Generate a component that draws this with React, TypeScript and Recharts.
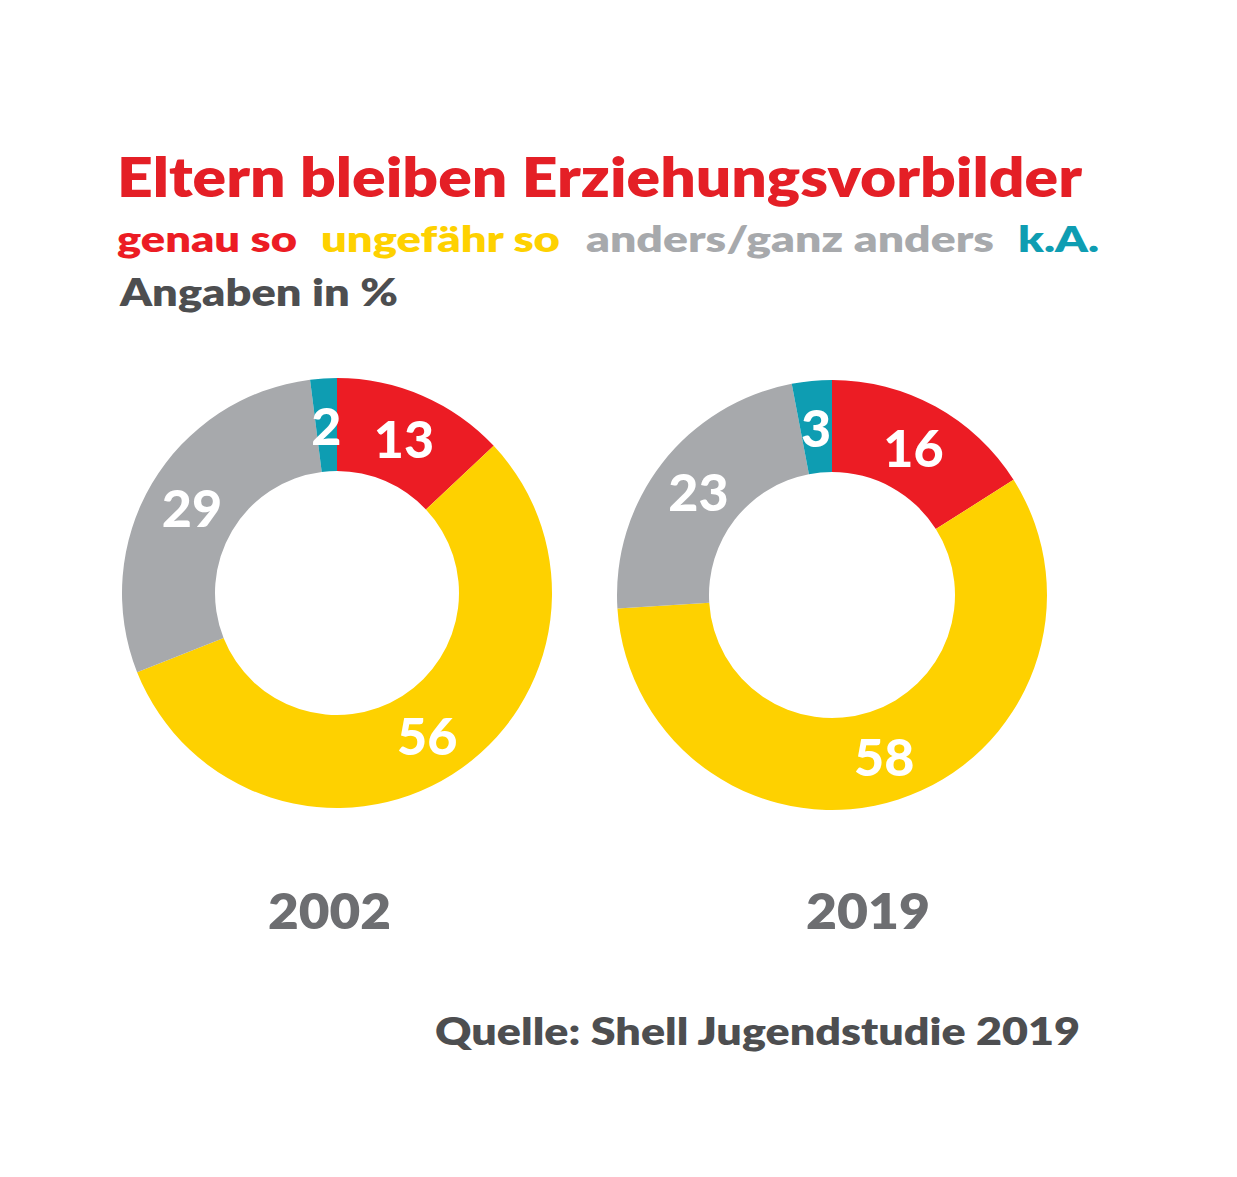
import React from "react";
import { PieChart, Pie, Cell } from "recharts";

const categories = ["genau so", "ungefähr so", "anders/ganz anders", "k.A."];
const values2002 = [13, 56, 29, 2];
const values2019 = [16, 58, 23, 3];
const years = ["2002", "2019"];
const colors = ["#EC1C24", "#FED100", "#A7A9AC", "#0E9DB2"];

const data2002 = categories.map((name, i) => ({ name, value: values2002[i] }));
const data2019 = categories.map((name, i) => ({ name, value: values2019[i] }));

const FONT = "Lato, 'Open Sans', sans-serif";
const RAD = Math.PI / 180;

const renderLabel = (props: any) => {
  const { cx, cy, midAngle, innerRadius, outerRadius, value } = props;
  const r = (innerRadius + outerRadius) / 2;
  const x = cx + r * Math.cos(-midAngle * RAD);
  const y = cy + r * Math.sin(-midAngle * RAD);
  return (
    <text
      x={x}
      y={y}
      fill="#ffffff"
      textAnchor="middle"
      dominantBaseline="central"
      fontFamily={FONT}
      fontWeight={900}
      fontSize={52}
    >
      {value}
    </text>
  );
};

export default function App() {
  return (
    <div style={{ position: "absolute", left: 0, top: 0, width: 1237, height: 1177, background: "#fff" }}>
      <PieChart width={1237} height={1177} margin={{ top: 0, right: 0, bottom: 0, left: 0 }}>
        <Pie
          data={data2002}
          dataKey="value"
          cx={337}
          cy={593}
          innerRadius={122}
          outerRadius={215}
          startAngle={90}
          endAngle={-270}
          stroke="none"
          label={renderLabel}
          labelLine={false}
          isAnimationActive={false}
        >
          {data2002.map((d, i) => (
            <Cell key={d.name} fill={colors[i]} />
          ))}
        </Pie>
        <Pie
          data={data2019}
          dataKey="value"
          cx={832}
          cy={595}
          innerRadius={123}
          outerRadius={215}
          startAngle={90}
          endAngle={-270}
          stroke="none"
          label={renderLabel}
          labelLine={false}
          isAnimationActive={false}
        >
          {data2019.map((d, i) => (
            <Cell key={d.name} fill={colors[i]} />
          ))}
        </Pie>
      </PieChart>
      <svg
        width={1237}
        height={1177}
        style={{ position: "absolute", left: 0, top: 0, pointerEvents: "none" }}
        fontFamily={FONT}
        fontWeight={800}
      >
        <text x={117} y={197} fontSize={54} fill="#E41F26" textLength={965} lengthAdjust="spacingAndGlyphs">
          Eltern bleiben Erziehungsvorbilder
        </text>
        <text x={117} y={252} fontSize={36} fill={colors[0]} textLength={180} lengthAdjust="spacingAndGlyphs">
          {categories[0]}
        </text>
        <text x={321} y={252} fontSize={36} fill={colors[1]} textLength={239} lengthAdjust="spacingAndGlyphs">
          {categories[1]}
        </text>
        <text x={586} y={252} fontSize={36} fill={colors[2]} textLength={408} lengthAdjust="spacingAndGlyphs">
          {categories[2]}
        </text>
        <text x={1018} y={252} fontSize={36} fill={colors[3]} textLength={81} lengthAdjust="spacingAndGlyphs">
          {categories[3]}
        </text>
        <text x={120} y={306} fontSize={37} fill="#4D4E50" textLength={278} lengthAdjust="spacingAndGlyphs">
          Angaben in %
        </text>
        <text x={268} y={929} fontSize={50} fill="#6D6E71" textLength={123} lengthAdjust="spacingAndGlyphs">
          {years[0]}
        </text>
        <text x={806} y={929} fontSize={50} fill="#6D6E71" textLength={124} lengthAdjust="spacingAndGlyphs">
          {years[1]}
        </text>
        <text x={435} y={1045} fontSize={38} fill="#4D4E50" textLength={645} lengthAdjust="spacingAndGlyphs">
          Quelle: Shell Jugendstudie 2019
        </text>
      </svg>
    </div>
  );
}
